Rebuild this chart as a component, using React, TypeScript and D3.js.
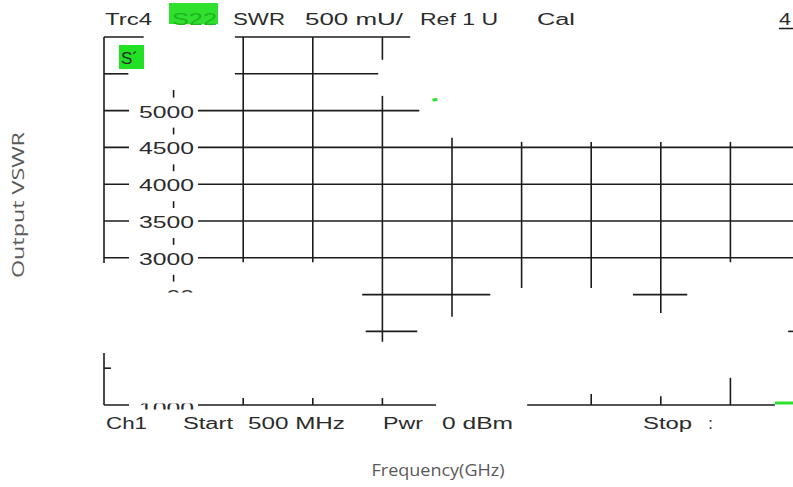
import React from "react";
import * as d3 from "d3";

// ---- data (grid in divisions along x, VSWR in mU along y) ----
const xDomain = [0, 10];
const yDomain = [1000, 6000];
const yTickLabels = [5000, 4500, 4000, 3500, 3000, 2500, 1000];
// visible pieces of the horizontal graticule: [value, fromDiv, toDiv]
const hSegments: [number, number, number][] = [
  [6000, 0, 0.57], [6000, 1.88, 4.4],
  [5500, 0, 0.35], [5500, 1.88, 3.94],
  [5000, 0, 4.53],
  [4500, 0, 10], [4000, 0, 10], [3500, 0, 10], [3000, 0, 10],
  [2500, 3.71, 5.55], [2500, 7.6, 8.38],
  [2000, 3.76, 4.5], [2000, 9.83, 10],
  [1500, 0, 0.1],
  [1000, 0, 4.77], [1000, 6.08, 9.64],
];
// visible pieces of the vertical graticule: [div, fromValue, toValue]
const vSegments: [number, number, number][] = [
  [0, 6000, 2930], [0, 1706, 1000],
  [1, 5280, 2500],
  [2, 6000, 2940], [2, 1095, 1000],
  [3, 6000, 2940], [3, 1095, 1000],
  [4, 6000, 5690], [4, 5200, 1860], [4, 1095, 1000],
  [5, 4630, 2200],
  [6, 4575, 2590],
  [7, 4575, 2590], [7, 1150, 1000],
  [8, 4575, 2250], [8, 1120, 1000],
  [9, 4575, 2940], [9, 1370, 1000],
];
// fragments of the S22 trace still visible
const traceFragments: [number, number][][] = [
  [[4.72, 5145], [4.79, 5150]],
  [[9.64, 1027], [10, 1027]],
];
const headerTexts = ["Trc4", "S22", "SWR", "500 mU/", "Ref 1 U", "Cal", "4"];
const footerTexts = ["Ch1", "Start", "500 MHz", "Pwr", "0 dBm", "Stop", ":"];
const xTitle = "Frequency(GHz)";
const yTitle = "Output VSWR";

// ---- layout ----
const W = 793, H = 487;
const headerSpans = [[105, 152], [172, 217], [233, 285], [305, 403], [420, 498], [537, 575], [779, 791]];
const footerSpans = [[106, 147], [183, 233], [248, 345], [383, 423], [442, 513], [643, 692], [708, 713]];
const FONT = "'Liberation Sans', Arial, sans-serif";
const INK = "#1c1c1c";
const TXT = "#2b2b2b";

export default function App() {
  const x = d3.scaleLinear().domain(xDomain).range([104, 800]);
  const y = d3.scaleLinear().domain(yDomain).range([405, 37]);
  const line = d3.line<[number, number]>().x(d => x(d[0])).y(d => y(d[1]));
  const labelX0 = 129, labelX1 = 198;

  return (
    <svg width={W} height={H} style={{ position: "absolute", left: 0, top: 0, background: "#fff" }}>
      <defs>
        <clipPath id="clip2500">
          <rect x={166} y={0} width={40} height={y(2500) - 2} />
        </clipPath>
        <clipPath id="clip1000">
          <rect x={130} y={y(1000) - 1.5} width={70} height={6} />
        </clipPath>
      </defs>
      <g stroke={INK} strokeWidth={1.6} fill="none">
        {hSegments.map(([v, a, b], i) => (
          <line key={"h" + i} x1={x(a)} x2={x(b)} y1={y(v)} y2={y(v)} />
        ))}
        {vSegments.map(([d, a, b], i) => (
          <line key={"v" + i} x1={x(d)} x2={x(d)} y1={y(a)} y2={y(b)} />
        ))}
      </g>
      {yTickLabels.map(v => (
        <rect key={"bg" + v} x={labelX0} y={y(v) - 13} width={labelX1 - labelX0} height={30} fill="#fff" />
      ))}
      {yTickLabels.map(v => (
        <text key={"l" + v} x={139} y={v === 1000 ? y(v) + 9 : y(v) + 7} fontFamily={FONT} fontSize={16} fill={TXT}
          textLength={55} lengthAdjust="spacingAndGlyphs"
          clipPath={v === 2500 ? "url(#clip2500)" : v === 1000 ? "url(#clip1000)" : undefined}>
          {v}
        </text>
      ))}
      {traceFragments.map((f, i) => (
        <path key={"t" + i} d={line(f) || ""} stroke="#2ee02e" strokeWidth={3} fill="none" />
      ))}
      {/* marker box */}
      <rect x={119} y={45} width={25} height={24} fill="#22e022" />
      <text x={121} y={64} fontFamily={FONT} fontSize={17} fill="#2a2a2a">S´</text>
      {/* header */}
      <rect x={169} y={3} width={49} height={21} fill="#2fe02f" />
      {headerTexts.map((t, i) => (
        <text key={"hd" + i} x={headerSpans[i][0]} y={25} fontFamily={FONT} fontSize={16}
          fill={t === "S22" ? "#1fb51f" : TXT}
          textLength={headerSpans[i][1] - headerSpans[i][0]} lengthAdjust="spacingAndGlyphs">{t}</text>
      ))}
      <line x1={779} x2={793} y1={28.5} y2={28.5} stroke={INK} strokeWidth={1.5} />
      {footerTexts.map((t, i) => (
        <text key={"ft" + i} x={footerSpans[i][0]} y={429} fontFamily={FONT} fontSize={16} fill={TXT}
          textLength={footerSpans[i][1] - footerSpans[i][0]} lengthAdjust="spacingAndGlyphs">{t}</text>
      ))}
      {/* axis titles */}
      <text transform="translate(24,205) rotate(-90)" textAnchor="middle" fontFamily="'Open Sans', sans-serif"
        fontSize={17} fill="#595959" textLength={146} lengthAdjust="spacingAndGlyphs">{yTitle}</text>
      <text x={438} y={476} textAnchor="middle" fontFamily="'Open Sans', sans-serif"
        fontSize={16} fill="#595959" textLength={133} lengthAdjust="spacingAndGlyphs">{xTitle}</text>
    </svg>
  );
}
